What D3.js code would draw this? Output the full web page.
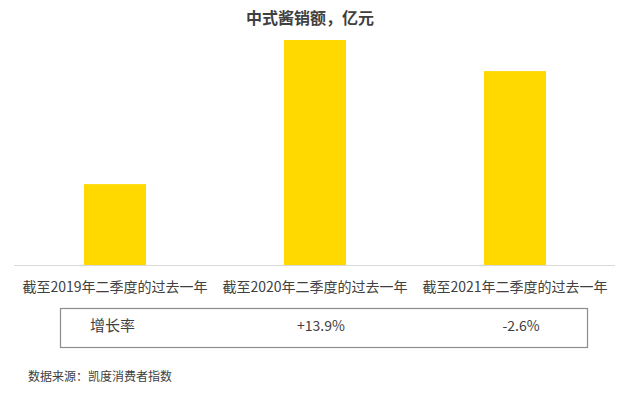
<!DOCTYPE html>
<html>
<head>
<meta charset="utf-8">
<script src="https://cdn.jsdelivr.net/npm/d3@7"></script>
<style>
  body { margin: 0; background: #fff; }
  svg { display: block; font-family: "Noto Sans CJK SC", "Noto Sans", sans-serif; }
</style>
</head>
<body>
<div id="chart"></div>
<script>
const width = 637;
const height = 396;

// sales index (no axis shown, baseline is not zero)
const periods = ["截至2019年二季度的过去一年", "截至2020年二季度的过去一年", "截至2021年二季度的过去一年"];
const sales = [100, 113.9, 110.9];
const growth = ["", "+13.9%", "-2.6%"];
const baseValue = 92.2;

const svg = d3.select("#chart").append("svg")
  .attr("width", width)
  .attr("height", height)
  .attr("viewBox", [0, 0, width, height]);

const x = d3.scaleBand()
  .domain(periods)
  .range([15, 615])
  .paddingInner(0.69)
  .paddingOuter(0.345);

const y = d3.scaleLinear()
  .domain([baseValue, d3.max(sales)])
  .range([265, 40]);

// title
svg.append("text")
  .attr("x", 310)
  .attr("y", 24)
  .attr("text-anchor", "middle")
  .attr("font-size", "16px")
  .attr("font-weight", "bold")
  .attr("fill", "#404040")
  .text("中式酱销额，亿元");

// bars
svg.append("g")
  .selectAll("rect")
  .data(periods)
  .join("rect")
  .attr("x", d => x(d))
  .attr("y", (d, i) => y(sales[i]))
  .attr("width", x.bandwidth())
  .attr("height", (d, i) => y(baseValue) - y(sales[i]))
  .attr("fill", "#ffd900");

// baseline
svg.append("line")
  .attr("x1", 14).attr("x2", 615)
  .attr("y1", y(baseValue) + 0.5).attr("y2", y(baseValue) + 0.5)
  .attr("stroke", "#d9d9d9")
  .attr("stroke-width", 1);

// category labels
svg.append("g")
  .selectAll("text")
  .data(periods)
  .join("text")
  .attr("x", d => x(d) + x.bandwidth() / 2)
  .attr("y", 292)
  .attr("text-anchor", "middle")
  .attr("font-size", "14px")
  .attr("fill", "#404040")
  .text(d => d);

// growth table
svg.append("rect")
  .attr("x", 60.5).attr("y", 308.5)
  .attr("width", 527).attr("height", 39)
  .attr("fill", "none")
  .attr("stroke", "#8c8c8c")
  .attr("stroke-width", 1.2);

svg.append("text")
  .attr("x", 90)
  .attr("y", 331)
  .attr("font-size", "15px")
  .attr("fill", "#404040")
  .text("增长率");

svg.append("g")
  .selectAll("text")
  .data(periods)
  .join("text")
  .attr("x", d => x(d) + x.bandwidth() / 2 + 6)
  .attr("y", 331)
  .attr("text-anchor", "middle")
  .attr("font-size", "14px")
  .attr("fill", "#404040")
  .text((d, i) => growth[i]);

// source
svg.append("text")
  .attr("x", 28)
  .attr("y", 381)
  .attr("font-size", "12px")
  .attr("fill", "#404040")
  .text("数据来源：凯度消费者指数");
</script>
</body>
</html>
